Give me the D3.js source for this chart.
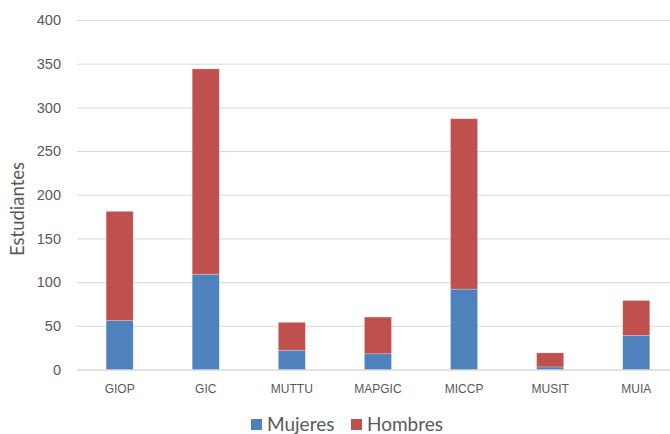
<!DOCTYPE html>
<html>
<head>
<meta charset="utf-8">
<script src="https://cdn.jsdelivr.net/npm/d3@7"></script>
<style>
  html, body { margin: 0; padding: 0; background: #fff; }
  svg { display: block; font-family: Lato, "Open Sans", "Liberation Sans", sans-serif; }
</style>
</head>
<body>
<svg id="chart" width="670" height="434"></svg>
<script>
// Students per programme, split by gender
const programas = ["GIOP", "GIC", "MUTTU", "MAPGIC", "MICCP", "MUSIT", "MUIA"];
const mujeres = [56, 109, 22, 18, 92, 3, 39];
const hombres = [125, 235, 32, 42, 195, 16, 40];
const yTicks = [0, 50, 100, 150, 200, 250, 300, 350, 400];
const seriesNames = ["Mujeres", "Hombres"];
const seriesColors = ["#4f81bd", "#c0504d"];

const svg = d3.select("#chart");

const x = d3.scaleBand()
  .domain(programas)
  .range([76.6, 679.3])
  .paddingInner(0.686)
  .paddingOuter(0.343);

const y = d3.scaleLinear()
  .domain([0, 400])
  .range([369.5, 20]);

// Horizontal gridlines and value labels
const yAxis = d3.axisLeft(y)
  .tickValues(yTicks)
  .tickSize(-(670 - 77))
  .tickPadding(16);

const gy = svg.append("g")
  .attr("transform", "translate(77,0)")
  .call(yAxis);
gy.select(".domain").remove();
gy.selectAll(".tick line").attr("stroke", "#d9d9d9").attr("stroke-width", 1);
gy.selectAll(".tick text")
  .attr("fill", "#595959")
  .attr("font-size", 14.5)
  .attr("x", -16);

// Category axis
const gx = svg.append("g")
  .attr("transform", `translate(0,${y(0)})`)
  .call(d3.axisBottom(x).tickSize(0).tickPadding(15));
gx.select(".domain").attr("stroke", "#d9d9d9").attr("stroke-width", 1)
  .attr("d", `M77,0.5H670`);
gx.selectAll(".tick text").attr("fill", "#595959").attr("font-size", 12);

// Stacked bars
const rows = programas.map((p, i) => ({ programa: p, Mujeres: mujeres[i], Hombres: hombres[i] }));
const stacked = d3.stack().keys(seriesNames)(rows);

svg.append("g")
  .selectAll("g")
  .data(stacked)
  .join("g")
  .attr("fill", (d, i) => seriesColors[i])
  .selectAll("rect")
  .data(d => d)
  .join("rect")
  .attr("x", d => x(d.data.programa))
  .attr("width", x.bandwidth())
  .attr("y", d => y(d[1]))
  .attr("height", d => y(d[0]) - y(d[1]))
  .attr("stroke", "#ffffff")
  .attr("stroke-opacity", 0.3)
  .attr("stroke-width", 0.75);

// Axis title
svg.append("text")
  .attr("transform", "translate(24,209) rotate(-90)")
  .attr("text-anchor", "middle")
  .attr("fill", "#595959")
  .attr("font-size", 18.5)
  .text("Estudiantes");

// Legend
const legendPos = [251, 351];
const legend = svg.append("g");
seriesNames.forEach((name, i) => {
  legend.append("rect")
    .attr("x", legendPos[i])
    .attr("y", 419)
    .attr("width", 11)
    .attr("height", 11)
    .attr("fill", seriesColors[i]);
  legend.append("text")
    .attr("x", legendPos[i] + 16)
    .attr("y", 431)
    .attr("fill", "#595959")
    .attr("font-size", 19)
    .text(name);
});
</script>
</body>
</html>
